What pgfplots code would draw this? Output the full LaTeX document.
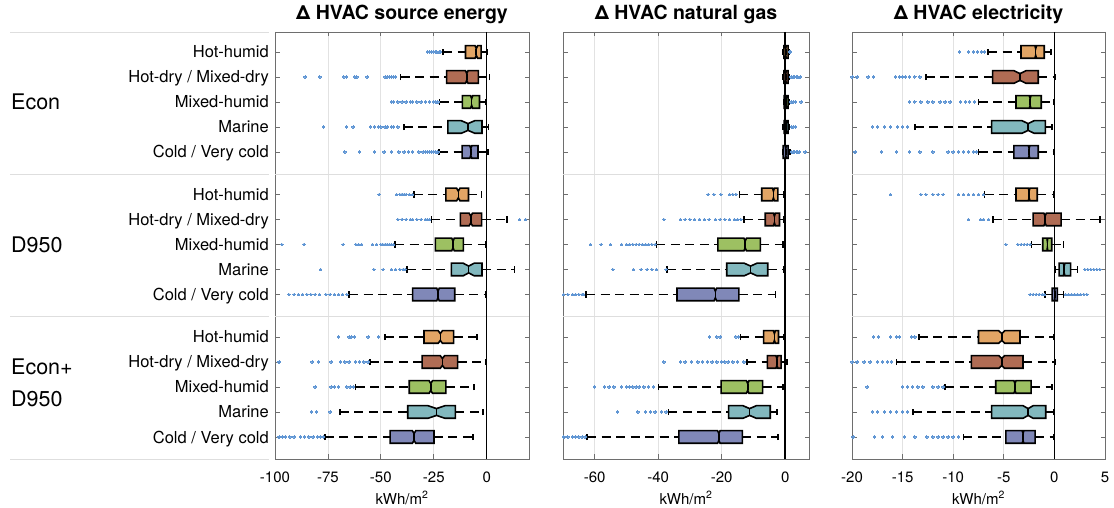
\documentclass[border=0pt]{standalone}
\usepackage{fontspec}
\setmainfont{TeX Gyre Heros}
\usepackage{pgfplots}
\pgfplotsset{compat=1.18}

\definecolor{cHH}{RGB}{226,165,101}
\definecolor{cHD}{RGB}{176,108,84}
\definecolor{cMH}{RGB}{157,192,98}
\definecolor{cMA}{RGB}{130,184,190}
\definecolor{cCO}{RGB}{128,136,184}
\definecolor{outc}{RGB}{96,150,212}
\definecolor{framec}{RGB}{110,110,110}
\definecolor{gridc}{RGB}{226,226,226}
\definecolor{sepc}{RGB}{222,222,222}

\pgfplotsset{
  panel/.style={
    anchor=south west, scale only axis, height=427bp, ymin=-427, ymax=0,
    axis line style={framec, line width=0.8bp},
    tick style={framec, line width=0.8bp},
    tick align=inside, tick pos=both, major tick length=4.5bp,
    xmajorgrids, grid style={gridc, line width=0.8bp},
    ytick={-20,-45,-70,-95,-120,-162.5,-187.5,-212.5,-237.5,-262.5,-305,-330,-355,-380,-405},
    yticklabels={},
    xticklabel style={font=\fontsize{15bp}{16bp}\selectfont, anchor=base, yshift=-23bp, inner sep=0pt},
    xlabel={kWh/m\textsuperscript{2}},
    xlabel style={font=\fontsize{15bp}{16bp}\selectfont, at={(axis description cs:0.5,0)}, anchor=base, yshift=-45bp, inner sep=0pt},
    title style={font=\bfseries\fontsize{19.5bp}{21bp}\selectfont, at={(axis description cs:0.5,1)}, anchor=base, yshift=7bp, inner sep=0pt},
  },
  whisk/.style={black, line width=1.6bp, dash pattern=on 9bp off 5.5bp},
  capst/.style={black, line width=1.6bp},
  boxs/.style={draw=black, line width=1.6bp},
  outl/.style={only marks, color=outc, mark=*, mark size=1.25bp, mark options={draw=outc, fill=outc, line width=0pt}},
  sepl/.style={sepc, line width=0.8bp},
  zerol/.style={black, line width=1.6bp},
}

% #1 y, #2 lower whisker, #3 q1, #4 median, #5 q3, #6 upper whisker, #7 notch half-width, #8 colour
\newcommand{\bx}[8]{%
  \pgfmathsetmacro\yl{#1-6.3}\pgfmathsetmacro\yh{#1+6.3}%
  \pgfmathsetmacro\ynl{#1-3.4}\pgfmathsetmacro\ynh{#1+3.4}%
  \pgfmathsetmacro\ml{#4-#7}\pgfmathsetmacro\mr{#4+#7}%
  \pgfmathsetmacro\cl{#1-3.2}\pgfmathsetmacro\ch{#1+3.2}%
  \addplot[whisk] coordinates {(#2,#1) (#3,#1)};
  \addplot[whisk] coordinates {(#5,#1) (#6,#1)};
  \addplot[capst] coordinates {(#2,\cl) (#2,\ch)};
  \addplot[capst] coordinates {(#6,\cl) (#6,\ch)};
  \addplot[boxs, fill=#8] coordinates {(#3,\yl) (\ml,\yl) (#4,\ynl) (\mr,\yl) (#5,\yl) (#5,\yh) (\mr,\yh) (#4,\ynh) (\ml,\yh) (#3,\yh)} -- cycle;
  \addplot[boxs] coordinates {(#4,\ynl) (#4,\ynh)};
}

\begin{document}
\begin{tikzpicture}
\useasboundingbox (0,0) rectangle (1114bp,508bp);

% ---------- label area ----------
\begin{axis}[at={(10bp,49bp)}, anchor=south west, scale only axis, width=259bp, height=427bp,
  xmin=0, xmax=259, ymin=-427, ymax=0, hide axis, clip=false]
\addplot[sepl] coordinates {(0,0) (259,0)};
\addplot[sepl] coordinates {(0,-142) (259,-142)};
\addplot[sepl] coordinates {(0,-284.5) (259,-284.5)};
\addplot[sepl] coordinates {(0,-427) (259,-427)};
\node[anchor=base west, inner sep=0pt, font=\fontsize{21.5bp}{24bp}\selectfont] at (axis cs:1,-78) {Econ};
\node[anchor=base west, inner sep=0pt, font=\fontsize{21.5bp}{24bp}\selectfont] at (axis cs:1,-221) {D950};
\node[anchor=base west, inner sep=0pt, font=\fontsize{21.5bp}{24bp}\selectfont] at (axis cs:1,-343) {Econ+};
\node[anchor=base west, inner sep=0pt, font=\fontsize{21.5bp}{24bp}\selectfont] at (axis cs:1,-375) {D950};
\end{axis}

% ---------- panel 1 ----------
\begin{axis}[panel, at={(275bp,49bp)}, width=254bp, xmin=-100, xmax=20,
  xtick={-100,-75,-50,-25,0}, xticklabels={-100,-75,-50,-25,0},
  yticklabels={Hot-humid,Hot-dry / Mixed-dry,Mixed-humid,Marine,Cold / Very cold,
               Hot-humid,Hot-dry / Mixed-dry,Mixed-humid,Marine,Cold / Very cold,
               Hot-humid,Hot-dry / Mixed-dry,Mixed-humid,Marine,Cold / Very cold},
  yticklabel style={font=\fontsize{16.5bp}{18bp}\selectfont, anchor=base east, inner sep=0pt, xshift=-6bp, yshift=-6bp},
  title={Δ HVAC source energy}]
\addplot[sepl] coordinates {(-100,-142) (20,-142)};
\addplot[sepl] coordinates {(-100,-284.5) (20,-284.5)};
\addplot[zerol] coordinates {(0,-427) (0,0)};
\addplot[outl] coordinates {
(-28,-20) (-27,-20) (-26,-20) (-25,-20) (-24,-20) (-23.5,-20) (-22.5,-20) (-22,-20)
(-85.8,-45) (-78.8,-45) (-67.5,-45) (-66.2,-45) (-62.3,-45) (-61.3,-45) (-56.5,-45) (-48,-45) (-47,-45) (-46,-45) (-45,-45) (-44,-45) (-43,-45)
(-45,-70) (-44,-70) (-42,-70) (-40,-70) (-38,-70) (-36,-70) (-35,-70) (-33,-70) (-31,-70) (-29,-70) (-27,-70) (-25,-70) (-24,-70) (-23,-70)
(-77.2,-95) (-66.2,-95) (-63.1,-95) (-55,-95) (-53,-95) (-51,-95) (-50,-95) (-48,-95) (-47,-95) (-45,-95) (-44,-95) (-42,-95)
(-67,-120) (-60,-120) (-53,-120) (-48.5,-120) (-45,-120) (-41.5,-120) (-39,-120) (-37,-120) (-35,-120) (-32,-120) (-30,-120) (-29,-120) (-28,-120) (-27,-120) (-26,-120) (-25,-120) (-24,-120) (-23,-120)
(-50.8,-162.5) (-42.5,-162.5) (-41,-162.5) (-40,-162.5) (-39,-162.5) (-38,-162.5) (-36.5,-162.5) (-35,-162.5)
(-42,-187.5) (-40,-187.5) (-38,-187.5) (-36,-187.5) (-35,-187.5) (-33,-187.5) (-31,-187.5) (-29,-187.5) (-28,-187.5) (-27,-187.5) (15.6,-187.5) (18.4,-187.5)
(-96.7,-212.5) (-86.3,-212.5) (-67.8,-212.5) (-61.8,-212.5) (-60.5,-212.5) (-59.1,-212.5) (-54,-212.5) (-52,-212.5) (-50,-212.5) (-49,-212.5) (-48,-212.5) (-47,-212.5) (-46,-212.5) (-45,-212.5) (-44,-212.5)
(-78.5,-237.5) (-53.3,-237.5) (-48.9,-237.5) (-45,-237.5) (-43,-237.5) (-41,-237.5) (-39.5,-237.5) (-38.5,-237.5)
(-93.5,-262.5) (-91,-262.5) (-89,-262.5) (-87,-262.5) (-85,-262.5) (-83,-262.5) (-81,-262.5) (-79,-262.5) (-76,-262.5) (-74,-262.5) (-72,-262.5) (-70,-262.5) (-68,-262.5) (-66,-262.5)
(-70,-305) (-65,-305) (-64,-305) (-62.5,-305) (-56,-305) (-51,-305)
(-98,-330) (-82.5,-330) (-79.5,-330) (-73.5,-330) (-69,-330) (-67,-330) (-65,-330) (-62,-330) (-60,-330) (-58,-330) (-56,-330)
(-81,-355) (-73.5,-355) (-72,-355) (-70,-355) (-66,-355) (-64.5,-355) (-63,-355)
(-82.7,-380) (-80.3,-380) (-74,-380)
(-98,-405) (-96.5,-405) (-95,-405) (-93,-405) (-91,-405) (-88,-405) (-86,-405) (-84,-405) (-82,-405) (-80,-405) (-78.5,-405) (-77,-405)
};
\bx{-20}{-20.6}{-10.0}{-4.9}{-2.6}{0.3}{0.6}{cHH}
\bx{-45}{-40.7}{-18.9}{-9.4}{-3.9}{1.4}{0.6}{cHD}
\bx{-70}{-22.2}{-11.5}{-7.1}{-3.4}{-0.5}{0.5}{cMH}
\bx{-95}{-39.1}{-18.3}{-8.8}{-2.2}{0.8}{3.2}{cMA}
\bx{-120}{-22.5}{-11.6}{-7.5}{-4.1}{0.6}{0.5}{cCO}
\bx{-162.5}{-34.4}{-19.3}{-13.4}{-8.6}{-2.4}{0.8}{cHH}
\bx{-187.5}{-26.1}{-12.4}{-7.5}{-2.4}{9.7}{0.8}{cHD}
\bx{-212.5}{-43.2}{-24.2}{-15.9}{-11.0}{-0.5}{0.6}{cMH}
\bx{-237.5}{-37.6}{-16.7}{-8.5}{-2.2}{13.1}{2.6}{cMA}
\bx{-262.5}{-65.0}{-35.0}{-23.0}{-15.1}{-0.2}{0.6}{cCO}
\bx{-305}{-48.1}{-29.6}{-21.9}{-15.6}{-4.6}{1.0}{cHH}
\bx{-330}{-55.2}{-30.5}{-20.9}{-13.7}{-0.6}{1.0}{cHD}
\bx{-355}{-61.9}{-36.6}{-26.4}{-19.3}{-6.0}{0.8}{cMH}
\bx{-380}{-69.3}{-37.3}{-23.7}{-14.8}{-1.7}{4.0}{cMA}
\bx{-405}{-76.4}{-45.6}{-34.3}{-24.9}{-6.4}{0.8}{cCO}
\end{axis}

% ---------- panel 2 ----------
\begin{axis}[panel, at={(563bp,49bp)}, width=246bp, xmin=-70, xmax=7.5,
  xtick={-60,-40,-20,0}, xticklabels={-60,-40,-20,0},
  title={Δ HVAC natural gas}]
\addplot[sepl] coordinates {(-70,-142) (7.5,-142)};
\addplot[sepl] coordinates {(-70,-284.5) (7.5,-284.5)};
\addplot[zerol] coordinates {(0,-427) (0,0)};
\addplot[outl] coordinates {
(1.35,-20) (1.6,-20)
(1.9,-45) (2.5,-45) (3,-45) (3.5,-45) (4,-45) (4.7,-45)
(1.9,-70) (2.5,-70) (3.3,-70) (5.0,-70)
(2,-95) (2.5,-95) (3.2,-95)
(2,-120) (2.5,-120) (3,-120) (3.5,-120) (4,-120) (4.5,-120) (6.3,-120)
(-24.3,-162.5) (-22.5,-162.5) (-20.3,-162.5) (-17.5,-162.5) (-16.5,-162.5) (-15.5,-162.5)
(-38.2,-187.5) (-33,-187.5) (-31.5,-187.5) (-30,-187.5) (-28.5,-187.5) (-27,-187.5) (-25.5,-187.5) (-24,-187.5) (-22,-187.5) (-20.5,-187.5) (-19,-187.5) (-17.5,-187.5) (-16,-187.5) (-15,-187.5) (-14,-187.5)
(-61.4,-212.5) (-58,-212.5) (-55.1,-212.5) (-51.5,-212.5) (-50,-212.5) (-49,-212.5) (-48,-212.5) (-47,-212.5) (-46,-212.5) (-45,-212.5) (-44,-212.5) (-43,-212.5) (-42,-212.5) (-41,-212.5)
(-54.3,-237.5) (-47.8,-237.5) (-45.4,-237.5) (-43.5,-237.5) (-42,-237.5) (-40.6,-237.5) (-37.5,-237.5)
(-69.8,-262.5) (-68.5,-262.5) (-67,-262.5) (-66,-262.5) (-65,-262.5) (-64,-262.5) (-63.5,-262.5)
(-23.8,-305) (-21.5,-305) (-20.5,-305) (-15.5,-305) (-14.7,-305)
(-38.2,-330) (-33,-330) (-31.5,-330) (-29.5,-330) (-27.5,-330) (-26,-330) (-24.5,-330) (-23,-330) (-21.5,-330) (-20,-330) (-19,-330) (-18,-330) (-16.5,-330) (-15,-330) (-13,-330)
(-60,-355) (-57,-355) (-55.5,-355) (-54,-355) (-51.5,-355) (-50,-355) (-49,-355) (-48,-355) (-47,-355) (-46,-355) (-44.5,-355) (-43,-355) (-41.5,-355)
(-52.9,-380) (-46.4,-380) (-44,-380) (-42.5,-380) (-41,-380) (-39,-380) (-37.5,-380)
(-69.7,-405) (-68.5,-405) (-67,-405) (-66,-405) (-65,-405) (-64,-405) (-63,-405)
};
\bx{-20}{-0.6}{-0.4}{0.2}{0.9}{1.2}{0.1}{cHH}
\bx{-45}{-0.6}{-0.4}{0.2}{0.9}{1.4}{0.1}{cHD}
\bx{-70}{-0.5}{-0.3}{0.3}{0.9}{1.4}{0.1}{cMH}
\bx{-95}{-0.6}{-0.3}{0.3}{0.9}{1.4}{0.1}{cMA}
\bx{-120}{-0.9}{-0.6}{0.2}{0.9}{1.5}{0.1}{cCO}
\bx{-162.5}{-14.4}{-7.4}{-3.7}{-2.3}{-0.5}{0.3}{cHH}
\bx{-187.5}{-13.0}{-6.3}{-3.4}{-1.8}{-0.5}{0.3}{cHD}
\bx{-212.5}{-40.6}{-21.2}{-12.6}{-7.8}{-0.7}{0.4}{cMH}
\bx{-237.5}{-37.2}{-18.4}{-10.9}{-5.5}{-0.5}{2.0}{cMA}
\bx{-262.5}{-62.7}{-34.1}{-22.0}{-14.6}{-3.1}{0.4}{cCO}
\bx{-305}{-14.1}{-6.8}{-3.4}{-2.1}{-0.5}{0.3}{cHH}
\bx{-330}{-12.0}{-5.6}{-2.6}{-1.3}{0.5}{0.3}{cHD}
\bx{-355}{-39.9}{-20.2}{-11.8}{-7.1}{-0.7}{0.4}{cMH}
\bx{-380}{-36.8}{-17.8}{-11.2}{-4.7}{-2.6}{2.1}{cMA}
\bx{-405}{-62.4}{-33.5}{-20.9}{-13.5}{-2.3}{0.4}{cCO}
\end{axis}

% ---------- panel 3 ----------
\begin{axis}[panel, at={(852bp,49bp)}, width=253bp, xmin=-20, xmax=5,
  xtick={-20,-15,-10,-5,0,5}, xticklabels={-20,-15,-10,-5,0,5},
  title={Δ HVAC electricity}]
\addplot[sepl] coordinates {(-20,-142) (5,-142)};
\addplot[sepl] coordinates {(-20,-284.5) (5,-284.5)};
\addplot[zerol] coordinates {(0,-427) (0,0)};
\addplot[outl] coordinates {
(-9.4,-20) (-8.5,-20) (-8,-20) (-7.6,-20) (-7.2,-20) (-6.9,-20)
(-20,-45) (-19.5,-45) (-18.4,-45) (-17.9,-45) (-15.7,-45) (-15.3,-45) (-15,-45) (-14.7,-45) (-14.3,-45) (-13.8,-45) (-13.3,-45)
(-14.3,-70) (-13.8,-70) (-13.2,-70) (-12.5,-70) (-12,-70) (-11.3,-70) (-10.8,-70) (-10.3,-70) (-9.3,-70) (-8.8,-70) (-8.4,-70) (-7.9,-70)
(-18,-95) (-17.5,-95) (-16.8,-95) (-16.2,-95) (-15.5,-95) (-15,-95) (-14.5,-95)
(-19.7,-120) (-17.1,-120) (-15.6,-120) (-14.3,-120) (-13.3,-120) (-12,-120) (-10.5,-120) (-10,-120) (-9.5,-120) (-9,-120) (-8.5,-120) (-8,-120) (-7.7,-120)
(-16.2,-162.5) (-13.2,-162.5) (-12.7,-162.5) (-12,-162.5) (-11.5,-162.5) (-11,-162.5) (-9.5,-162.5) (-9,-162.5) (-8.5,-162.5) (-8,-162.5) (-7.5,-162.5) (-7,-162.5)
(-8.5,-187.5) (-7.3,-187.5) (-7,-187.5) (-6.5,-187.5)
(-4.8,-212.5) (-3.6,-212.5) (-3.3,-212.5) (-3,-212.5) (-2.7,-212.5) (-2.4,-212.5)
(3.0,-237.5) (3.3,-237.5) (3.6,-237.5) (3.9,-237.5) (4.2,-237.5) (4.5,-237.5)
(-2.4,-262.5) (-2.1,-262.5) (-1.8,-262.5) (-1.5,-262.5) (-1.2,-262.5) (-1.0,-262.5) (1.1,-262.5) (1.4,-262.5) (1.7,-262.5) (2.0,-262.5) (2.3,-262.5) (2.6,-262.5) (2.9,-262.5) (3.2,-262.5)
(-17.9,-305) (-17.4,-305) (-16.2,-305) (-15.6,-305) (-15.3,-305) (-14.1,-305) (-13.8,-305)
(-20,-330) (-19.5,-330) (-18.8,-330) (-18.2,-330) (-17.5,-330) (-17,-330) (-16.5,-330) (-16.1,-330)
(-18.5,-355) (-15,-355) (-14.5,-355) (-14,-355) (-13.5,-355) (-13,-355) (-12,-355) (-11.5,-355) (-11,-355)
(-18,-380) (-17.5,-380) (-16.8,-380) (-16.2,-380) (-15.6,-380) (-15,-380) (-14.5,-380)
(-19.9,-405) (-17.8,-405) (-17,-405) (-16,-405) (-14.8,-405) (-13.8,-405) (-12.6,-405) (-12,-405) (-11.5,-405) (-11,-405) (-10.5,-405) (-10,-405) (-9.5,-405)
};
\bx{-20}{-6.55}{-3.3}{-1.85}{-1.0}{-0.33}{0.08}{cHH}
\bx{-45}{-12.7}{-6.1}{-3.4}{-1.6}{0.07}{0.6}{cHD}
\bx{-70}{-7.5}{-3.8}{-2.4}{-1.3}{-0.1}{0.08}{cMH}
\bx{-95}{-13.8}{-6.2}{-2.6}{-0.9}{-0.26}{0.6}{cMA}
\bx{-120}{-7.5}{-4.0}{-2.5}{-1.6}{-0.1}{0.06}{cCO}
\bx{-162.5}{-6.9}{-3.8}{-2.5}{-1.7}{-0.1}{0.08}{cHH}
\bx{-187.5}{-6.06}{-2.1}{-0.92}{0.67}{4.5}{0.12}{cHD}
\bx{-212.5}{-2.25}{-1.15}{-0.7}{-0.26}{0.9}{0.04}{cMH}
\bx{-237.5}{0.07}{0.47}{0.96}{1.6}{2.3}{0.08}{cMA}
\bx{-262.5}{-0.92}{-0.23}{0.03}{0.3}{0.9}{0.03}{cCO}
\bx{-305}{-13.4}{-7.5}{-5.2}{-3.4}{-0.1}{0.3}{cHH}
\bx{-330}{-15.6}{-8.2}{-5.2}{-3.1}{0.07}{0.28}{cHD}
\bx{-355}{-10.8}{-5.8}{-3.9}{-2.3}{-0.26}{0.1}{cMH}
\bx{-380}{-14.0}{-6.2}{-2.6}{-0.86}{-0.1}{0.5}{cMA}
\bx{-405}{-9.0}{-4.8}{-3.1}{-1.9}{-0.1}{0.08}{cCO}
\end{axis}
\end{tikzpicture}
\end{document}
